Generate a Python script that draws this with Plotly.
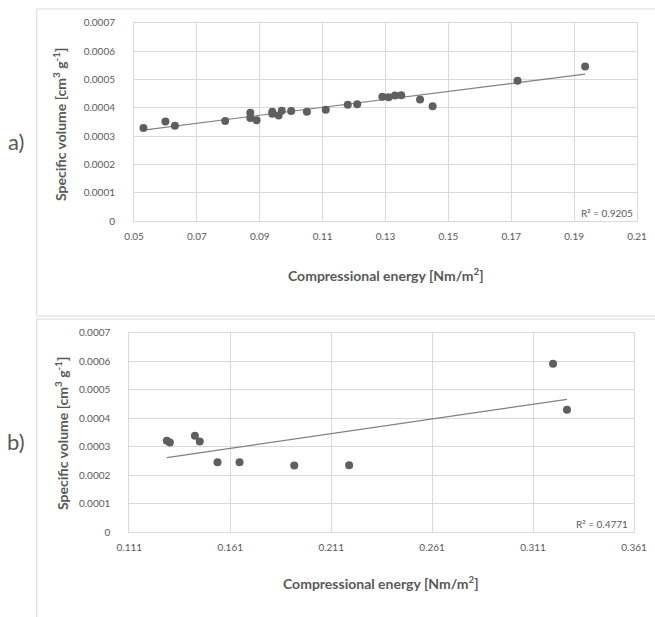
import numpy as np
import plotly.graph_objects as go

# ---------------- data ----------------
energy_a = [0.053, 0.060, 0.063, 0.079, 0.087, 0.087, 0.089, 0.094, 0.094, 0.096, 0.097, 0.100,
            0.105, 0.111, 0.118, 0.121, 0.129, 0.131, 0.133, 0.135, 0.141, 0.145, 0.172, 0.1935]
volume_a = [0.000328, 0.000351, 0.000336, 0.000353, 0.000382, 0.000364, 0.000356, 0.000386,
            0.000379, 0.000372, 0.000389, 0.000388, 0.000386, 0.000393, 0.000410, 0.000412,
            0.000439, 0.000437, 0.000443, 0.000444, 0.000429, 0.000405, 0.000495, 0.000545]

energy_b = [0.1296, 0.1311, 0.1435, 0.1459, 0.1547, 0.1656, 0.1927, 0.2199, 0.3209, 0.3278]
volume_b = [0.000321, 0.000315, 0.000339, 0.000318, 0.000246, 0.000246, 0.000234, 0.000235,
            0.000591, 0.000430]

x_ticks_a = [0.05, 0.07, 0.09, 0.11, 0.13, 0.15, 0.17, 0.19, 0.21]
x_tick_labels_a = ["0.05", "0.07", "0.09", "0.11", "0.13", "0.15", "0.17", "0.19", "0.21"]
x_ticks_b = [0.111, 0.161, 0.211, 0.261, 0.311, 0.361]
x_tick_labels_b = ["0.111", "0.161", "0.211", "0.261", "0.311", "0.361"]
y_ticks = [0, 0.0001, 0.0002, 0.0003, 0.0004, 0.0005, 0.0006, 0.0007]
y_tick_labels = ["0", "0.0001", "0.0002", "0.0003", "0.0004", "0.0005", "0.0006", "0.0007"]

r2_a = "R² = 0.9205"
r2_b = "R² = 0.4771"
y_title = "Specific volume [cm<sup>3</sup> g<sup>-1</sup>]"
x_title = "Compressional energy [Nm/m<sup>2</sup>]"

# ---------------- style ----------------
W, H = 655, 617
TXT = "#595959"
GRID = "#d9d9d9"
FONT = "Lato"
MARK = "#5f5f5f"
TREND = "#808080"


def px(x):
    return x / W


def py(y):
    return 1 - y / H


def trend(xs, ys):
    k, b = np.polyfit(xs, ys, 1)
    xe = [min(xs), max(xs)]
    return xe, [k * v + b for v in xe]


fig = go.Figure()

for xs, ys, xa, ya in [(energy_a, volume_a, "x", "y"), (energy_b, volume_b, "x2", "y2")]:
    tx, ty = trend(xs, ys)
    fig.add_trace(go.Scatter(x=tx, y=ty, mode="lines", line=dict(color=TREND, width=1.2),
                             xaxis=xa, yaxis=ya, showlegend=False, hoverinfo="skip"))
    fig.add_trace(go.Scatter(x=xs, y=ys, mode="markers",
                             marker=dict(color=MARK, size=8, line=dict(width=0)),
                             xaxis=xa, yaxis=ya, showlegend=False))

tickfont = dict(family=FONT, size=10, color=TXT)
common_x = dict(showgrid=True, gridcolor=GRID, gridwidth=1, zeroline=False, showline=True,
                linecolor=GRID, linewidth=1, mirror=True, ticks="", tickfont=tickfont,
                ticklabelstandoff=6, fixedrange=True, automargin=False)
common_y = dict(showgrid=True, gridcolor=GRID, gridwidth=1, zeroline=False, showline=True,
                linecolor=GRID, linewidth=1, mirror=True, ticks="", tickfont=tickfont,
                ticklabelstandoff=16, range=[0, 0.0007], tickvals=y_ticks, ticktext=y_tick_labels,
                fixedrange=True, automargin=False)

fig.update_layout(
    width=W, height=H, margin=dict(l=0, r=0, t=0, b=0, pad=0, autoexpand=False),
    paper_bgcolor="white", plot_bgcolor="white",
    xaxis=dict(common_x, domain=[px(134), px(637)], range=[0.05, 0.21],
               tickvals=x_ticks_a, ticktext=x_tick_labels_a, anchor="y"),
    yaxis=dict(common_y, domain=[py(221), py(22.7)], anchor="x"),
    xaxis2=dict(common_x, domain=[px(129.3), px(634)], range=[0.111, 0.361],
                tickvals=x_ticks_b, ticktext=x_tick_labels_b, anchor="y2"),
    yaxis2=dict(common_y, domain=[py(532.3), py(332.7)], anchor="x2"),
    shapes=[
        dict(type="rect", xref="paper", yref="paper", x0=px(36.7), x1=px(660), y0=py(316), y1=py(9),
             line=dict(color=GRID, width=1), layer="below"),
        dict(type="rect", xref="paper", yref="paper", x0=px(36.7), x1=px(660), y0=py(622), y1=py(319),
             line=dict(color=GRID, width=1), layer="below"),
    ],
)

ann = []
title_font = dict(family=FONT, size=14, color=TXT, weight="bold")
for (lx, ly, lab) in [(16, 141.7, "a)"), (16, 441.7, "b)")]:
    ann.append(dict(x=px(lx), y=py(ly), xref="paper", yref="paper", text=lab, showarrow=False,
                    font=dict(family=FONT, size=22, color=TXT), xanchor="center", yanchor="middle"))
for (tx, ty) in [(60, 125), (61, 434)]:
    ann.append(dict(x=px(tx), y=py(ty), xref="paper", yref="paper", text=y_title, showarrow=False,
                    textangle=-90, font=title_font, xanchor="center", yanchor="middle"))
for (tx, ty) in [(386, 275), (381, 582)]:
    ann.append(dict(x=px(tx), y=py(ty), xref="paper", yref="paper", text=x_title, showarrow=False,
                    font=title_font, xanchor="center", yanchor="middle"))
for (tx, ty, t) in [(607, 213.3, r2_a), (602, 524.3, r2_b)]:
    ann.append(dict(x=px(tx), y=py(ty), xref="paper", yref="paper", text=t, showarrow=False,
                    font=dict(family=FONT, size=10, color=TXT), xanchor="center", yanchor="middle"))
fig.update_layout(annotations=ann)

fig.write_html("out.html")
